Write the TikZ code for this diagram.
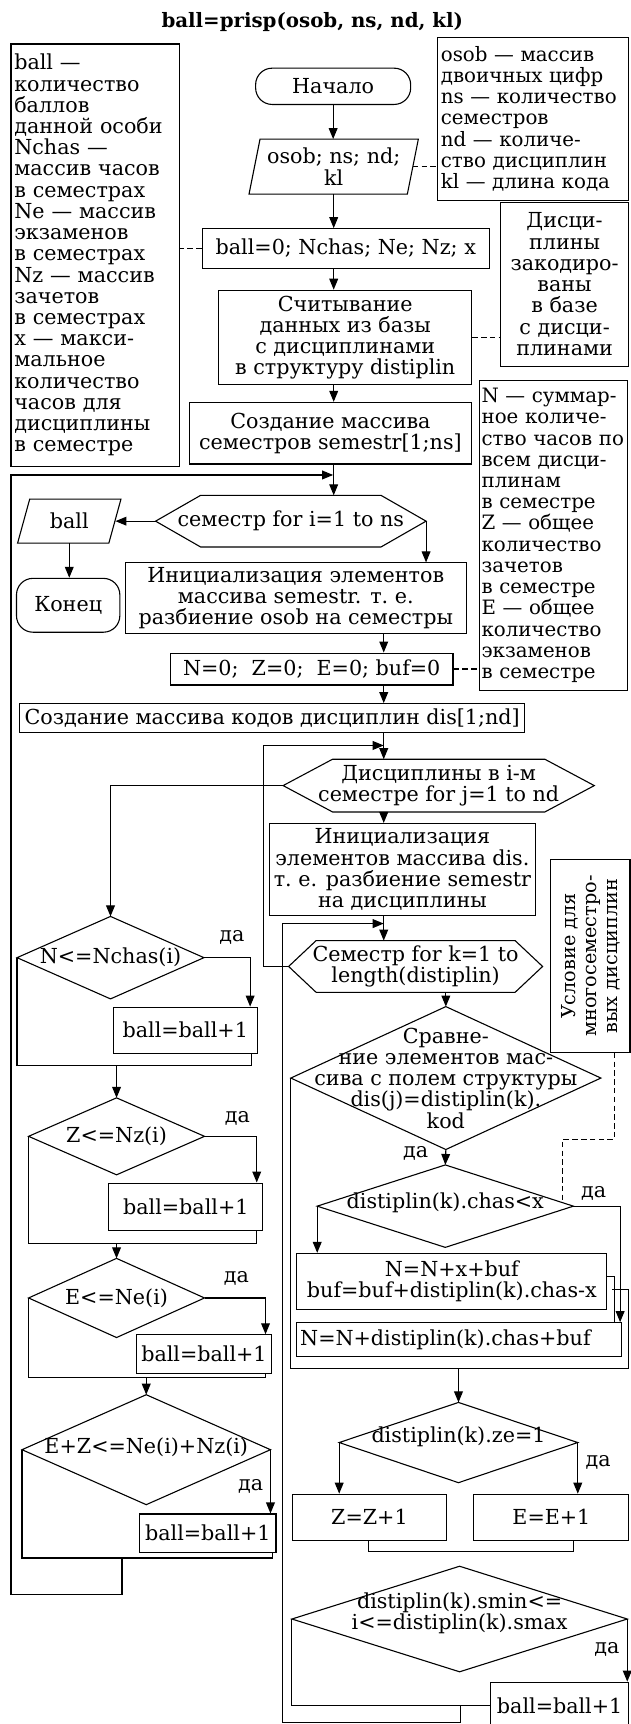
\documentclass[tikz,border=0pt]{standalone}
\usepackage{fontspec}
\setmainfont{DejaVu Serif}
\usetikzlibrary{arrows.meta}
\newcommand\dfont{\fontsize{18.8}{19.3}\selectfont}
\newcommand\rfont{\fontsize{17.5}{19}\selectfont}
\newcommand\nfont{\fontsize{18}{19.3}\selectfont}
% outline helpers for shapes drawn around invisible carrier nodes
\newcommand\drawdiamond[1]{\draw (#1.north) -- (#1.east) -- (#1.south) -- (#1.west) -- cycle;}
\newcommand\drawhex[2]{\draw (#1.west) -- ([xshift=#2]#1.north west) -- ([xshift=-#2]#1.north east) -- (#1.east) -- ([xshift=-#2]#1.south east) -- ([xshift=#2]#1.south west) -- cycle;}
\newcommand\drawpar[2]{\draw ([xshift=#2]#1.north west) -- (#1.north east) -- ([xshift=-#2]#1.south east) -- (#1.south west) -- cycle;}
\tikzset{
  every node/.style={font=\dfont, inner sep=0pt},
  box/.style={draw, rectangle, align=center},
  shp/.style={draw=none, rectangle, align=center},
  term/.style={draw, rectangle, rounded corners=15pt},
  note/.style={draw, rectangle, align=left, inner xsep=3pt},
  ttl/.style={font=\fontsize{18}{20}\selectfont\bfseries},
  arr/.style={-{Triangle[length=10pt,width=8pt]}},
  dsh/.style={dash pattern=on 5pt off 3pt},
  yes/.style={font=\dfont},
}
\begin{document}
\begin{tikzpicture}[x=1pt, y=-1pt, line width=1pt]
\useasboundingbox (0,0) rectangle (573,1568);

\node[ttl] (title) at (284,20) {ball=prisp(osob, ns, nd, kl)};

% side notes
\node[note, minimum width=153pt, minimum height=384pt, text width=147pt] (nA) at (86.5,232)
  {ball —\\количество\\баллов\\данной особи\\Nchas —\\массив часов\\в семестрах\\Ne — массив\\экзаменов\\в семестрах\\Nz — массив\\зачетов\\в семестрах\\x — макси-\\мальное\\количество\\часов для\\дисциплины\\в семестре};
\node[note, font=\nfont, minimum width=174pt, minimum height=148pt, text width=168pt] (nB) at (485,108)
  {osob — массив\\двоичных цифр\\\mbox{ns — количество}\\семестров\\nd — количе-\\ство дисциплин\\kl — длина кода};
\node[box, minimum width=117pt, minimum height=149pt] (nC) at (513.5,258.5)
  {Дисци-\\плины\\закодиро-\\ваны\\в базе\\с дисци-\\плинами};
\node[note, font=\nfont, minimum width=135pt, minimum height=282pt, text width=131pt, inner xsep=2pt] (nD) at (503.5,487)
  {N — суммар-\\ное количе-\\\mbox{ство часов по}\\всем дисци-\\плинам\\в семестре\\Z — общее\\количество\\зачетов\\в семестре\\E — общее\\количество\\экзаменов\\в семестре};
\node[box, minimum width=72pt, minimum height=175pt] (nE) at (537,869.5) {};
\node[rotate=90, align=center, font=\rfont] (nE-t) at (nE) {Условие для\\многосеместро-\\вых дисциплин};

% main column
\node[term, minimum width=141pt, minimum height=33pt] (start) at (303,78.5) {Начало};
\node[shp, minimum width=153pt, minimum height=49pt] (inp) at (303.5,151.5) {osob; ns; nd;\\kl};
\drawpar{inp}{10pt}
\node[box, minimum width=261pt, minimum height=36pt] (init0) at (314.5,226) {ball=0; Nchas; Ne; Nz; x};
\node[box, minimum width=230pt, minimum height=86pt] (read) at (314,307)
  {Считывание\\данных из базы\\с дисциплинами\\в структуру distiplin};
\node[box, minimum width=257pt, minimum height=56pt] (sem) at (300.5,394)
  {Создание массива\\семестров semestr[1;ns]};
\node[shp, minimum width=245pt, minimum height=46pt] (hex1) at (264.5,474) {семестр for i=1 to ns};
\drawhex{hex1}{41pt}
\node[shp, minimum width=93pt, minimum height=39pt] (bout) at (63,474) {ball};
\drawpar{bout}{11pt}
\node[term, minimum width=94pt, minimum height=49pt] (stop) at (62,550.5) {Конец};
\node[box, minimum width=310pt, minimum height=64pt] (init1) at (269,544)
  {Инициализация элементов\\массива semestr. т.~е.\\разбиение osob на семестры};
\node[box, minimum width=257pt, minimum height=29pt] (zero) at (283.5,608.5) {N=0;\ \ Z=0;\ \ E=0; buf=0};
\node[box, minimum width=459pt, minimum height=26pt] (codes) at (247.5,653)
  {Создание массива кодов дисциплин dis[1;nd]};
\node[shp, minimum width=282pt, minimum height=47pt] (hex2) at (399,714.5)
  {Дисциплины в i-м\\семестре for j=1 to nd};
\drawhex{hex2}{45pt}
\node[box, minimum width=242pt, minimum height=84pt] (init2) at (366,791)
  {Инициализация\\элементов массива dis.\\т.~е. разбиение semestr\\на дисциплины};
\node[shp, minimum width=230pt, minimum height=46pt] (hex3) at (378,879)
  {Семестр for k=1 to\\length(distiplin)};
\drawhex{hex3}{25pt}

% inner loop body
\node[shp, minimum width=281pt, minimum height=129pt] (cmp) at (405.5,980.5) {};
\drawdiamond{cmp}
\node[align=center] (cmp-t) at (cmp) {Сравне-\\ние элементов мас-\\сива с полем структуры\\dis(j)=distiplin(k).\\kod};
\node[shp, minimum width=232pt, minimum height=74pt] (dC) at (405,1097) {};
\drawdiamond{dC}
\node (dC-t) at (405,1094) {distiplin(k).chas<x};
\node[box, minimum width=282pt, minimum height=51pt] (nx) at (411,1165.5)
  {N=N+x+buf\\buf=buf+distiplin(k).chas-x};
\node[box, minimum width=295pt, minimum height=31pt, text width=289pt, align=left, inner xsep=3pt] (nb) at (417.5,1218.5)
  {N=N+distiplin(k).chas+buf};
\node[shp, minimum width=216pt, minimum height=72pt] (dze) at (417,1312) {};
\drawdiamond{dze}
\node (dze-t) at (417,1307) {distiplin(k).ze=1};
\node[box, minimum width=140pt, minimum height=42pt] (zb) at (336,1380) {Z=Z+1};
\node[box, minimum width=141pt, minimum height=42pt] (eb) at (501.5,1380) {E=E+1};
\node[shp, minimum width=304pt, minimum height=95pt] (dsm) at (418,1472.5) {};
\drawdiamond{dsm}
\node[align=center] (dsm-t) at (418,1467) {distiplin(k).smin<=\\i<=distiplin(k).smax};
\node[box, minimum width=126pt, minimum height=42pt] (b5) at (509,1551) {ball=ball+1};

% left branch checks
\node[shp, minimum width=169pt, minimum height=74pt] (dN) at (100.5,871) {};
\drawdiamond{dN}
\node (dN-t) at (dN) {N<=Nchas(i)};
\node[box, minimum width=131pt, minimum height=42pt] (b1) at (168.5,937) {ball=ball+1};
\node[shp, minimum width=159pt, minimum height=69pt] (dZ) at (106,1033.5) {};
\drawdiamond{dZ}
\node (dZ-t) at (dZ) {Z<=Nz(i)};
\node[box, minimum width=140pt, minimum height=43pt] (b2) at (169,1097.5) {ball=ball+1};
\node[shp, minimum width=159pt, minimum height=71pt] (dE) at (106,1180.5) {};
\drawdiamond{dE}
\node (dE-t) at (dE) {E<=Ne(i)};
\node[box, minimum width=123pt, minimum height=35pt] (b3) at (185.5,1231.5) {ball=ball+1};
\node[shp, minimum width=225pt, minimum height=99pt] (d4) at (133,1318.5) {};
\drawdiamond{d4}
\node (d4-t) at (133,1316) {E+Z<=Ne(i)+Nz(i)};
\node[box, minimum width=124pt, minimum height=35pt] (b4) at (189,1394.5) {ball=ball+1};

% "yes" labels
\node[yes] (y1) at (211,853) {да};
\node[yes] (y2) at (216,1017) {да};
\node[yes] (y3) at (215,1163) {да};
\node[yes] (y4) at (228,1352) {да};
\node[yes] (y5) at (378,1049) {да};
\node[yes] (y6) at (540,1085) {да};
\node[yes] (y7) at (544,1330) {да};
\node[yes] (y8) at (552,1500) {да};

% junction points
\coordinate (j1) at (303,432);
\coordinate (c2) at (349,600);
\coordinate (j2) at (349,678);
\coordinate (lp2) at (240,678);
\coordinate (j3) at (349,840);
\coordinate (lp3) at (257,1567);
\coordinate (m9) at (419,1552);
\coordinate (m1) at (106,969);
\coordinate (m2) at (106,1131);
\coordinate (m3) at (133,1253);
\coordinate (m4) at (111,1417);
\coordinate (lp1) at (10,1450);
\coordinate (c4) at (564,1100);
\coordinate (c5) at (559,1161);
\coordinate (fr) at (572,1245);
\coordinate (fr2) at (557,1173);
\coordinate (m5) at (449,1411);
\coordinate (dq1) at (512,1036);
\coordinate (dq2) at (512,1093);

% main flow
\draw[arr] (start.south) -- (start.south |- inp.north);
\draw[arr] (inp.south) -- (inp.south |- init0.north);
\draw[arr] (inp.south |- init0.south) -- (inp.south |- read.north);
\draw[arr] (inp.south |- read.south) -- (inp.south |- sem.north);
\draw[arr] (inp.south |- sem.south) -- (inp.south |- hex1.north);
\draw[arr] (hex1.west) -- ([xshift=-5pt]bout.east);
\draw[arr] (bout.south) -- (bout.south |- stop.north);
\draw[arr] (hex1.east) -- (hex1.east |- init1.north);
\draw[arr] (c2 |- init1.south) -- (c2 |- zero.north);
\draw[arr] (c2 |- zero.south) -- (c2 |- codes.north);
\draw[arr] (c2 |- codes.south) -- (c2 |- hex2.north);
\draw[arr] (c2 |- hex2.south) -- (c2 |- init2.north);
\draw[arr] (c2 |- init2.south) -- (c2 |- hex3.north);
\draw[arr] (hex3.west) -| (lp2) -- (j2);

% left branch
\draw[arr] (hex2.west) -| (dN.north);
\draw[arr] (dN.east) -| ([xshift=-7pt]b1.north east);
\draw (dN.west) |- (m1) -| ([xshift=-6pt]b1.south east);
\draw[arr] (m1) -- (dZ.north);
\draw[arr] (dZ.east) -| ([xshift=-6pt]b2.north east);
\draw (dZ.west) |- (m2) -| ([xshift=-6pt]b2.south east);
\draw[arr] (m2) -- (dE.north);
\draw[arr] (dE.east) -| ([xshift=-6pt]b3.north east);
\draw (dE.west) |- (m3) -| ([xshift=-6pt]b3.south east);
\draw[arr] (m3) -- (d4.north);
\draw[arr] (d4.east) -- (d4.east |- b4.north);
\draw (d4.west) |- (m4) -| ([xshift=-4pt]b4.south east);
\draw[arr] (m4) |- (lp1) |- (j1);

% inner loop
\draw[arr] (hex3.south -| cmp.north) -- (cmp.north);
\draw[arr] (cmp.south) -- (dC.north);
\draw[arr] (dC.west) -- (dC.west |- nx.north);
\draw[arr] (dC.east) -| (c4 |- nb.north);
\draw (nx.east |- c5) -| (c5 |- nb.north);
\draw (cmp.west) |- (fr) |- (fr2);
\draw[arr] (dze.north |- fr) -- (dze.north);
\draw[arr] (dze.west) -- (dze.west |- zb.north);
\draw[arr] (dze.east) -- (dze.east |- eb.north);
\draw ([xshift=-1pt]zb.south) |- (m5) -| ([xshift=20pt]eb.south);
\draw[arr] (dsm.east) -- (dsm.east |- b5.north);
\draw (dsm.west) |- (b5.west);
\draw[arr] (m9) |- (lp3) |- (j3);

% comment links
\draw[dsh] (init0.west) -- (init0.west -| nA.east);
\draw[dsh] ([xshift=-5pt]inp.east) -- (inp.east -| nB.west);
\draw[dsh] (read.east) -- (read.east -| nC.west);
\draw[dsh] (zero.east) -- (zero.east -| nD.west);
\draw[dsh] ([xshift=22pt]nE.south) |- (dq1) -- (dq2);
\end{tikzpicture}
\end{document}
